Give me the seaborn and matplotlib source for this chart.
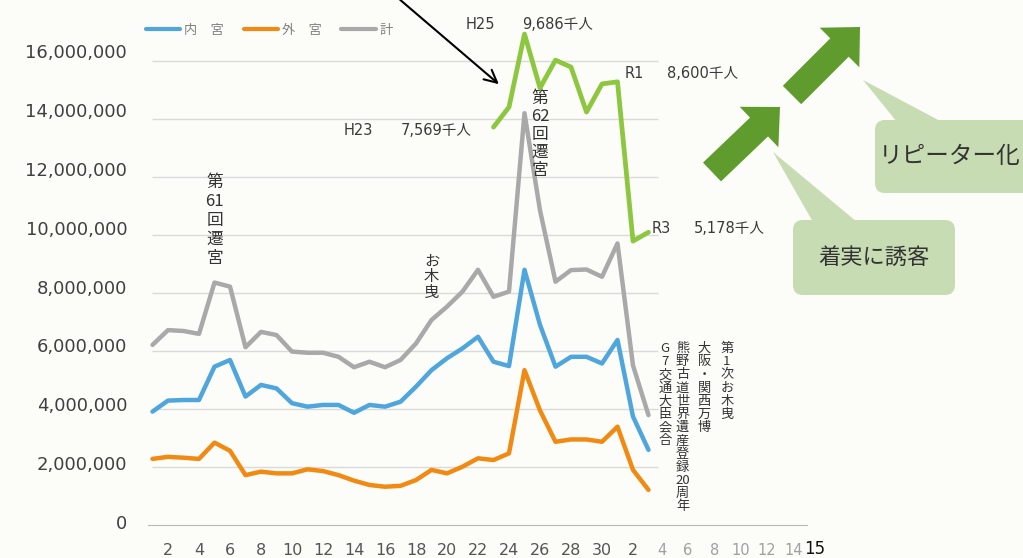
import numpy as np
import pandas as pd
import matplotlib
matplotlib.use("Agg")
import matplotlib.pyplot as plt
import matplotlib.patches as mpatches
import matplotlib.transforms as mtransforms
from matplotlib.lines import Line2D
from matplotlib.transforms import IdentityTransform
import seaborn as sns

# 年（H1〜H31=R1, R2, R3）
years = ["H%d" % i for i in range(1, 31)] + ["R1", "R2", "R3"]

# 参拝者数（百万人）
naiku = [3.91, 4.29, 4.31, 4.31, 5.46, 5.69, 4.43, 4.83, 4.71, 4.20,
         4.08, 4.14, 4.14, 3.87, 4.14, 4.08, 4.25, 4.77, 5.34, 5.75,
         6.09, 6.49, 5.63, 5.48, 8.80, 6.90, 5.46, 5.80, 5.80, 5.57,
         6.38, 3.74, 2.59]
geku = [2.28, 2.35, 2.32, 2.28, 2.84, 2.56, 1.72, 1.84, 1.78, 1.78,
        1.92, 1.86, 1.72, 1.53, 1.38, 1.32, 1.35, 1.55, 1.90, 1.78,
        2.01, 2.30, 2.24, 2.47, 5.34, 3.95, 2.87, 2.95, 2.95, 2.87,
        3.39, 1.90, 1.21]
total = [6.21, 6.72, 6.69, 6.59, 8.36, 8.22, 6.13, 6.66, 6.55, 5.98,
         5.94, 5.94, 5.80, 5.44, 5.63, 5.44, 5.69, 6.26, 7.07, 7.53,
         8.05, 8.80, 7.87, 8.05, 14.20, 10.85, 8.39, 8.79, 8.81, 8.56,
         9.71, 5.50, 3.79]

# 別系列（千人）H23〜R3
green_years = ["H23", "H24", "H25", "H26", "H27", "H28", "H29", "H30", "R1", "R2", "R3"]
green_vals = [7569, 8025, 9686, 8460, 9093, 8935, 7912, 8552, 8600, 4977, 5178]

series_names = ["内　宮", "外　宮", "計"]
series_colors = ["#4ea6dc", "#f18a12", "#a9a9a9"]
green_color = "#8dc63f"

even_labels = [str(i) for i in range(2, 31, 2)] + ["2"]

# 縦書きラベル
events = [
    ("H5", 12.1e6, ["第", "61", "回", "遷", "宮"], 19, 12),
    ("H19", 9.4e6, ["お", "木", "曳"], 16, 11),
    ("H26", 15.0e6, ["第", "62", "回", "遷", "宮"], 18, 12),
]
right_notes = [
    ["G", "7", "交", "通", "大", "臣", "会", "合"],
    ["熊", "野", "古", "道", "世", "界", "遺", "産", "登", "録", "20", "周", "年"],
    ["大", "阪", "・", "関", "西", "万", "博"],
    ["第", "1", "次", "お", "木", "曳"],
]

W, H = 1023, 558
bg = "#fcfcf8"

sns.set_style("white")
plt.rcParams["font.family"] = ["DejaVu Sans", "Noto Sans CJK JP"]
jp = ["Noto Sans CJK JP", "DejaVu Sans"]

idx = {y: i for i, y in enumerate(years)}
df = pd.DataFrame({
    "idx": list(range(len(years))) * 3,
    "value": [v * 1e6 for v in naiku + geku + total],
    "series": sum([[n] * len(years) for n in series_names], []),
})
gdf = pd.DataFrame({"idx": [idx[y] for y in green_years], "value": green_vals})

fig = plt.figure(figsize=(W / 100, H / 100), dpi=100, facecolor=bg)
ax = fig.add_axes([148 / W, 33 / H, 659 / W, 521 / H])
ax.set_facecolor("none")

px_per_idx = 15.5
ax.set_xlim((148 - 152.5) / px_per_idx, (807 - 152.5) / px_per_idx)
ymax = 521 / 29 * 1e6
ax.set_ylim(0, ymax)

yt = np.arange(0, 16.1e6, 2e6)
ax.hlines(yt[1:], -0.05, 32.6, color="#dadada", lw=1, zorder=0)

sns.lineplot(data=df, x="idx", y="value", hue="series", hue_order=series_names[::-1],
             palette=dict(zip(series_names, series_colors)), lw=3.2, ax=ax, legend=False)

# 右軸（千人）: y_main = 1516*v + 2.245e6
ax2 = ax.twinx()
ax2.set_ylim((0 - 2.245e6) / 1516, (ymax - 2.245e6) / 1516)
sns.lineplot(data=gdf, x="idx", y="value", color=green_color, lw=3.4, ax=ax2)
ax2.set_axis_off()

# 軸
for s in ["top", "right", "left"]:
    ax.spines[s].set_visible(False)
ax.spines["bottom"].set_color("#b8b8b8")
ax.set_yticks(yt)
ax.set_yticklabels(["{:,}".format(int(v)) for v in yt], fontsize=13, color="#404040")
ax.tick_params(axis="y", length=0, pad=15)
for t, v in zip(ax.get_yticklabels(), yt):
    up = (3 + 7 * v / 16e6) / 100
    t.set_transform(t.get_transform() + mtransforms.ScaledTranslation(0, up, fig.dpi_scale_trans))

n = len(years)
fut_pos = [32 + (k - 3) * 0.85 for k in range(4, 15)]
ticks = list(range(n)) + fut_pos
labels = [""] * n
for j, lab in enumerate(even_labels):
    labels[2 * j + 1] = lab
fut_lab = [str(k) if k % 2 == 0 else "" for k in range(4, 15)]
ax.set_xticks(ticks)
ax.set_xticklabels(labels + fut_lab, fontsize=11.5)
ax.tick_params(axis="x", length=5, color="#c0c0c0", pad=8)
for t in ax.get_xticklabels():
    t.set_color("#555555")
for t in ax.get_xticklabels()[n:]:
    t.set_color("#a0a0a0")
    t.set_fontsize(10.5)
ax.set_xlabel("")
ax.set_ylabel("")

# 凡例
handles = [Line2D([], [], color=c, lw=3) for c in series_colors]
ax.legend(handles, series_names, loc="upper left", bbox_to_anchor=(134 / W, 1 - 12 / H),
          bbox_transform=fig.transFigure, frameon=False, ncol=3,
          handlelength=2.6, handletextpad=0.3, columnspacing=1.5, labelcolor="#7f7f7f",
          prop={"family": jp, "size": 9.5})

# 数値注記（緑系列）
notes = [
    ("H25", "9,686千人", (-59, 10), (-2, 10)),
    ("R1", "8,600千人", (7, 8), (50, 8)),
    ("H23", "7,569千人", (-150, -3), (-93, -3)),
    ("R3", "5,178千人", (3, 4), (45, 4)),
]
gmap = dict(zip(green_years, green_vals))
for yr, txt, o1, o2 in notes:
    for s, o in ((yr, o1), (txt, o2)):
        ax2.annotate(s, xy=(idx[yr], gmap[yr]), xytext=o, textcoords="offset pixels",
                     ha="left", va="center", fontsize=10.5, color="#3a3a3a")

# 黒矢印
ax.annotate("", xy=(501, H - 86), xycoords="figure pixels", xytext=(398, H + 2),
            arrowprops=dict(arrowstyle="->,head_length=0.9,head_width=0.45", color="black", lw=1.5))

# 縦書き
for yr, ytop, chars, pitch, fs in events:
    for k, ch in enumerate(chars):
        ax.annotate(ch, xy=(idx[yr], ytop), xytext=(0, -k * pitch), textcoords="offset pixels",
                    ha="center", va="top", fontsize=fs, color="#333333", family=jp)

for c, chars in enumerate(right_notes):
    xpos = [33.06, 34.2, 35.6, 37.05][c]
    for k, ch in enumerate(chars):
        ax.annotate(ch, xy=(xpos, 6.31e6), xytext=(0, -k * 13.2), textcoords="offset pixels",
                    ha="center", va="top", fontsize=9.5, color="#333333", family=jp)

# 緑のブロック矢印・吹き出し（ピクセル座標、上原点）
tr = IdentityTransform()


def P(x, y):
    return (x, H - y)


for (x0, y0), (x1, y1) in [((712, 172), (780, 107)), ((792, 95), (860, 27))]:
    a = mpatches.FancyArrow(*P(x0, y0), x1 - x0, -(y1 - y0), width=26, head_width=56,
                            head_length=29, length_includes_head=True, transform=tr,
                            color="#5f9b2d", lw=0)
    fig.patches.append(a)

box_color = "#c8dcb4"
for (bx, by, bw, bh), tri, txt, tx, fs in [
    ((875, 120, 170, 73), [(863, 80), (897, 122), (942, 122)], "リピーター化", 879, 17),
    ((793, 220, 162, 75), [(773, 152), (813, 222), (857, 222)], "着実に誘客", 874, 16),
]:
    b = mpatches.FancyBboxPatch(P(bx, by + bh), bw, bh, boxstyle="round,pad=0,rounding_size=10",
                                transform=tr, facecolor=box_color, edgecolor="none")
    fig.patches.append(b)
    fig.patches.append(mpatches.Polygon([P(*p) for p in tri], closed=True, transform=tr,
                                        facecolor=box_color, edgecolor="none"))
    ha = "left" if fs == 17 else "center"
    fig.text(tx / W, 1 - (by + bh / 2) / H, txt, ha=ha, va="center", fontsize=fs,
             color="#333333", family=jp)

fig.text(815 / W, 1 - 549 / H, "15", ha="center", va="center", fontsize=12, color="#111111")

fig.savefig("out.png", dpi=100, facecolor=bg)
